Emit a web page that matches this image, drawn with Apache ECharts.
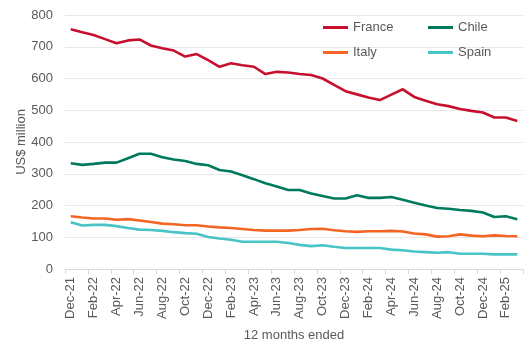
<!DOCTYPE html>
<html><head><meta charset="utf-8">
<script src="https://cdn.jsdelivr.net/npm/echarts@6/dist/echarts.min.js"></script>
<style>html,body{margin:0;padding:0;background:#fff}#c{width:530px;height:348px}</style>
</head><body><div id="c"></div>
<script>
const months = ["Dec-21","Jan-22","Feb-22","Mar-22","Apr-22","May-22","Jun-22","Jul-22","Aug-22","Sep-22","Oct-22","Nov-22",
"Dec-22","Jan-23","Feb-23","Mar-23","Apr-23","May-23","Jun-23","Jul-23","Aug-23","Sep-23","Oct-23","Nov-23",
"Dec-23","Jan-24","Feb-24","Mar-24","Apr-24","May-24","Jun-24","Jul-24","Aug-24","Sep-24","Oct-24","Nov-24",
"Dec-24","Jan-25","Feb-25","Mar-25"];
const france = [755,746,737,724,711,720,723,704,695,688,669,677,658,637,648,642,637,614,621,619,614,611,600,580,560,550,540,532,549,566,542,530,519,513,504,498,493,477,477,466];
const chile  = [333,328,331,335,335,349,363,363,352,345,340,331,327,312,307,295,283,270,260,249,249,238,230,222,222,232,224,224,227,218,209,200,192,190,186,183,178,164,166,157];
const italy  = [166,162,159,159,155,157,153,148,143,141,138,138,134,131,129,126,123,121,121,121,123,126,127,122,119,117,119,119,120,118,112,109,102,103,109,105,103,106,104,103];
const spain  = [147,137,139,139,135,129,124,123,120,116,113,111,101,96,92,86,86,86,86,82,76,72,75,70,66,66,66,66,61,59,55,53,51,53,48,48,48,46,46,46];
const yTicks = [0,100,200,300,400,500,600,700,800];

const names = ["France","Chile","Italy","Spain"];
const colors = ["#c8102e","#007a5c","#f26522","#48c3c6"];
const values = [france, chile, italy, spain];
const FONT = "Liberation Sans";
const TXT = "#595959";

const legendPos = [[318,16],[423,16],[318,41],[423,41]];
const chart = echarts.init(document.getElementById('c'));
chart.setOption({
  animation:false,
  color: colors,
  textStyle:{fontFamily:FONT},
  grid:{left:65,right:7,top:15,bottom:79},
  legend: names.map((n,i)=>({
    data:[n], left:legendPos[i][0], top:legendPos[i][1], icon:'rect', itemWidth:25, itemHeight:3, itemGap:4,
    textStyle:{fontFamily:FONT,fontSize:13,color:TXT}, selectedMode:false
  })),
  xAxis:{
    type:'category', data:months, boundaryGap:true,
    name:'12 months ended', nameLocation:'middle', nameGap:60,
    nameTextStyle:{fontFamily:FONT,fontSize:13,color:TXT},
    axisLine:{lineStyle:{color:'#d9d9d9',width:1}},
    axisTick:{show:true,interval:1,length:5,lineStyle:{color:'#d9d9d9'}},
    axisLabel:{interval:1,rotate:90,fontSize:13,color:TXT,fontFamily:FONT,margin:8}
  },
  yAxis:{
    type:'value', min:yTicks[0], max:yTicks[yTicks.length-1], interval:100,
    name:'US$ million', nameLocation:'middle', nameGap:37, nameMoveOverlap:false,
    nameTextStyle:{fontFamily:FONT,fontSize:13,color:TXT},
    axisLine:{show:false}, axisTick:{show:false},
    axisLabel:{fontSize:13,color:TXT,fontFamily:FONT,margin:12},
    splitLine:{lineStyle:{color:'#e8e8e8',width:1}}
  },
  series: names.map((n,i)=>({
    name:n, type:'line', data:values[i], symbol:'none', showSymbol:false,
    lineStyle:{width:2.6,color:colors[i]}, itemStyle:{color:colors[i]}
  }))
});
</script></body></html>
